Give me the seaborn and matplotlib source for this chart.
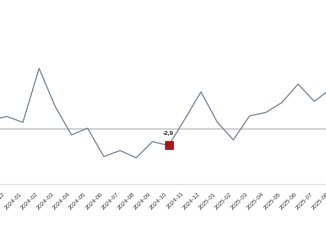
import matplotlib
matplotlib.use("Agg")
import matplotlib.pyplot as plt
import matplotlib.transforms as mtransforms
import seaborn as sns
import pandas as pd
import numpy as np

months = ["2023-11", "2023-12", "2024-01", "2024-02", "2024-03", "2024-04", "2024-05",
          "2024-06", "2024-07", "2024-08", "2024-09", "2024-10", "2024-11", "2024-12",
          "2025-01", "2025-02", "2025-03", "2025-04", "2025-05", "2025-06", "2025-07",
          "2025-08"]
values = [1.6, 2.3, 1.25, 10.9, 4.05, -1.0, 0.2, -4.9, -3.8, -5.1, -2.2, -2.9, 1.8,
          6.7, 1.3, -1.9, 2.4, 3.0, 4.8, 8.1, 5.0, 7.2]
highlight_month = "2024-10"
highlight_label = "-2,9"

df = pd.DataFrame({"month": months, "value": values})
df["idx"] = np.arange(len(df)) - 1  # 2023-12 -> 0

sns.set_theme(style="white")
plt.rcParams["font.family"] = ["Liberation Sans", "DejaVu Sans"]

W, H = 326, 245
fig = plt.figure(figsize=(W / 100, H / 100), dpi=100)
# axes extends beyond figure edges (cropped chart)
ax_left_px, ax_right_px = -30, 356
ax_bottom_px, ax_top_px = 184, 0  # from top
ax = fig.add_axes([ax_left_px / W, (H - ax_bottom_px) / H,
                   (ax_right_px - ax_left_px) / W, (ax_bottom_px - ax_top_px) / H])

sp = 16.19
x0 = 6.7
ax.set_xlim((ax_left_px - x0) / sp, (ax_right_px - x0) / sp)
k = 5.586
zero_px = 129.3
ax.set_ylim((zero_px - ax_bottom_px) / k, zero_px / k)

ax.axhline(0, color="#d4d4d4", lw=1.4, zorder=1)
sns.lineplot(data=df, x="idx", y="value", ax=ax, color="#7b8b98", lw=0.9, zorder=3)

hi = df[df["month"] == highlight_month].iloc[0]
ax.scatter([hi["idx"]], [hi["value"]], marker="s", s=40, color="#ad141c",
           edgecolor="#780e13", linewidth=0.5, zorder=5)
ax.annotate(highlight_label, (hi["idx"], hi["value"]), xytext=(-0.5, 7.5),
            textcoords="offset points", ha="center", va="bottom",
            fontsize=4.6, fontweight="bold", color="#222222")

ax.set_xticks(df["idx"])
ax.set_xticklabels(df["month"], rotation=45, ha="right", fontsize=4.4, color="#3a3a3a")
offset = mtransforms.ScaledTranslation(3.3 / 100, 0, fig.dpi_scale_trans)
for lbl in ax.get_xticklabels():
    lbl.set_transform(lbl.get_transform() + offset)
ax.tick_params(axis="x", length=0, pad=5)
ax.set_yticks([])
ax.set_xlabel("")
ax.set_ylabel("")
for s in ["top", "left", "right"]:
    ax.spines[s].set_visible(False)
ax.spines["bottom"].set_color("#e2e2e2")
ax.spines["bottom"].set_linewidth(0.8)
ax.set_facecolor("white")
fig.patch.set_facecolor("white")

fig.savefig("out.png", dpi=100)
